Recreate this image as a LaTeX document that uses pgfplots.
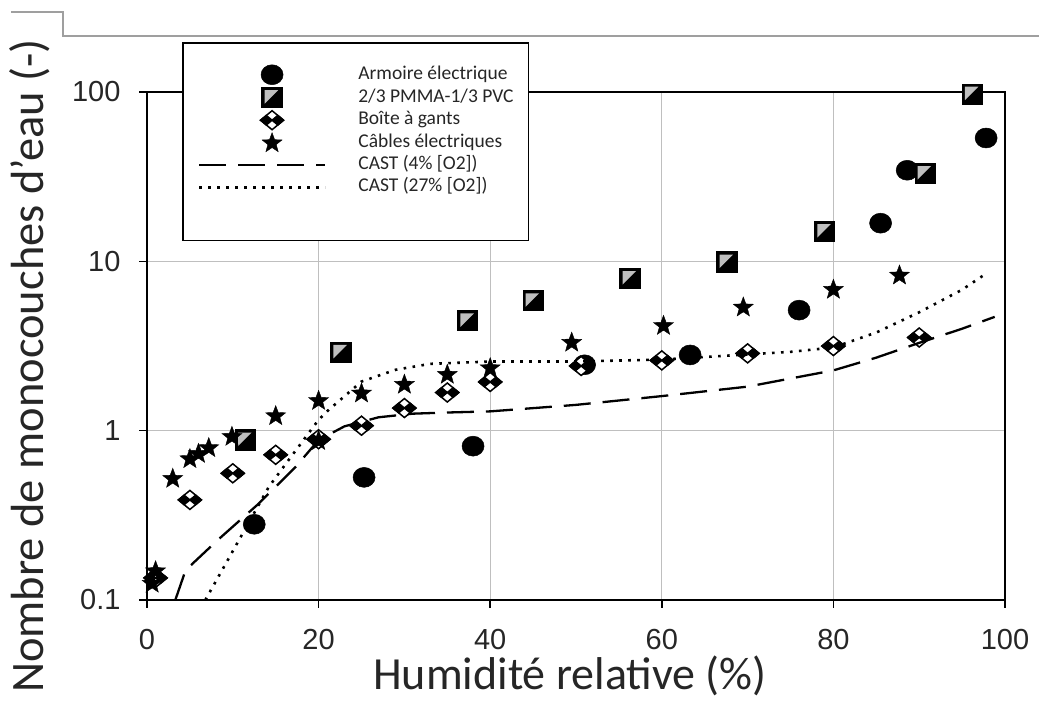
\documentclass[border=0pt]{standalone}
\usepackage{fontspec}
\setmainfont{Carlito}
\newfontfamily\tickfont{Liberation Sans}
\usepackage{pgfplots}
\pgfplotsset{compat=1.18}

\pgfdeclareplotmark{bstar}{%
 \pgfpathmoveto{\pgfpointpolar{90}{\pgfplotmarksize}}%
 \pgfpathlineto{\pgfpointpolar{126}{0.42\pgfplotmarksize}}%
 \pgfpathlineto{\pgfpointpolar{162}{\pgfplotmarksize}}%
 \pgfpathlineto{\pgfpointpolar{198}{0.42\pgfplotmarksize}}%
 \pgfpathlineto{\pgfpointpolar{234}{\pgfplotmarksize}}%
 \pgfpathlineto{\pgfpointpolar{270}{0.42\pgfplotmarksize}}%
 \pgfpathlineto{\pgfpointpolar{306}{\pgfplotmarksize}}%
 \pgfpathlineto{\pgfpointpolar{342}{0.42\pgfplotmarksize}}%
 \pgfpathlineto{\pgfpointpolar{18}{\pgfplotmarksize}}%
 \pgfpathlineto{\pgfpointpolar{54}{0.42\pgfplotmarksize}}%
 \pgfpathclose
 \pgfsetfillcolor{black}%
 \pgfusepathqfillstroke
}
\pgfdeclareplotmark{hsq}{%
 \pgfpathrectangle{\pgfpoint{-\pgfplotmarksize}{-\pgfplotmarksize}}{\pgfpoint{2\pgfplotmarksize}{2\pgfplotmarksize}}%
 \pgfsetfillcolor{black}%
 \pgfusepathqfillstroke
 \pgfpathmoveto{\pgfpoint{-0.75\pgfplotmarksize}{0.75\pgfplotmarksize}}%
 \pgfpathlineto{\pgfpoint{0.6\pgfplotmarksize}{0.75\pgfplotmarksize}}%
 \pgfpathlineto{\pgfpoint{-0.75\pgfplotmarksize}{-0.6\pgfplotmarksize}}%
 \pgfpathclose
 \pgfsetfillcolor{black!25}%
 \pgfusepathqfill
}
\pgfdeclareplotmark{bdia}{%
 \pgfpathmoveto{\pgfpoint{-1.15\pgfplotmarksize}{0pt}}%
 \pgfpathlineto{\pgfpoint{0pt}{0.95\pgfplotmarksize}}%
 \pgfpathlineto{\pgfpoint{1.15\pgfplotmarksize}{0pt}}%
 \pgfpathlineto{\pgfpoint{0pt}{-0.95\pgfplotmarksize}}%
 \pgfpathclose
 \pgfsetfillcolor{white}%
 \pgfusepathqfillstroke
 \pgfpathmoveto{\pgfpoint{-0.575\pgfplotmarksize}{0.475\pgfplotmarksize}}%
 \pgfpathlineto{\pgfpoint{0pt}{0pt}}%
 \pgfpathlineto{\pgfpoint{-0.575\pgfplotmarksize}{-0.475\pgfplotmarksize}}%
 \pgfpathlineto{\pgfpoint{-1.15\pgfplotmarksize}{0pt}}%
 \pgfpathclose
 \pgfpathmoveto{\pgfpoint{0.575\pgfplotmarksize}{0.475\pgfplotmarksize}}%
 \pgfpathlineto{\pgfpoint{0pt}{0pt}}%
 \pgfpathlineto{\pgfpoint{0.575\pgfplotmarksize}{-0.475\pgfplotmarksize}}%
 \pgfpathlineto{\pgfpoint{1.15\pgfplotmarksize}{0pt}}%
 \pgfpathclose
 \pgfsetfillcolor{black}%
 \pgfusepathqfillstroke
}

\begin{document}
\begin{tikzpicture}
\useasboundingbox (0pt,0pt) rectangle (1039pt,715pt);
\draw[gray!75, line width=1.2pt] (11pt,703pt) -- (63pt,703pt) -- (63pt,679pt) -- (1039pt,679pt);
\begin{axis}[
  at={(147pt,115pt)}, anchor=south west,
  scale only axis, width=858pt, height=508pt,
  xmin=0, xmax=100, ymode=log, ymin=0.1, ymax=100,
  xtick={0,20,40,60,80,100},
  ytick={0.1,1,10,100}, yticklabels={0.1,1,10,100},
  xtick pos=bottom, ytick pos=left,
  tick align=outside, major tick length=8pt,
  tick style={black, line width=1.5pt},
  minor tick num=0, minor y tick style={draw=none},
  grid=major, major grid style={gray!50, line width=1.3pt},
  axis line style={black, line width=2pt},
  /pgf/number format/assume math mode=true,
  ticklabel style={font=\tickfont\fontsize{29}{32}\selectfont, text=black!85},
  yticklabel style={xshift=-15pt},
  xticklabel style={yshift=-18pt},
  clip mode=individual,
  legend image code/.code={\draw[mark repeat=2, mark phase=2] plot coordinates {(0pt,0pt) (73pt,0pt) (126pt,0pt)};},
  legend style={at={(0.0408,1.0984)}, anchor=north west, draw=black, line width=1.5pt, fill=white,
    inner xsep=15pt, inner ysep=22pt, font=\fontsize{19.5}{22}\selectfont,
    row sep=3pt, column sep=32pt,
    nodes={inner sep=0pt, text height=14pt, text depth=5pt, text=black!85}},
  legend cell align=left,
]
% Armoire electrique
\addplot[only marks, mark=*, mark size=10.5pt, mark options={fill=black, draw=black, line width=0.5pt, xscale=1.05, yscale=0.95}]
 coordinates {(12.5,0.28) (25.3,0.53) (38,0.81) (51,2.45) (63.3,2.8) (76,5.15) (85.5,16.8) (88.6,34.5) (97.8,53.5)};
\addlegendentry{Armoire électrique}
% PMMA-PVC
\addplot[only marks, mark=hsq, mark size=10pt, mark options={draw=black, line width=1.2pt}]
 coordinates {(11.5,0.88) (22.6,2.9) (37.4,4.45) (45,5.85) (56.3,7.9) (67.6,9.9) (79,15) (90.7,33) (96.2,97)};
\addlegendentry{2/3 PMMA-1/3 PVC}
% Boite a gants
\addplot[only marks, mark=bdia, mark size=10pt, mark options={draw=black, line width=1.5pt}]
 coordinates {(1,0.135) (5,0.39) (10,0.56) (15,0.72) (20,0.89) (25,1.07) (30,1.36) (35,1.68) (40,1.94) (50.6,2.41) (60,2.6) (70,2.86) (80,3.16) (90,3.55)};
\addlegendentry{Boîte à gants}
% Cables electriques
\addplot[only marks, mark=bstar, mark size=10.5pt, mark options={draw=black, line width=0.4pt}]
 coordinates {(0.6,0.125) (1,0.148) (3,0.52) (5,0.68) (6,0.73) (7.2,0.79) (9.9,0.92) (15,1.22) (20,0.87) (20,1.5) (25,1.66) (30,1.87) (35,2.14) (40,2.34) (49.5,3.31) (60.2,4.16) (69.5,5.34) (80,6.8) (87.7,8.25)};
\addlegendentry{Câbles électriques}
% CAST 4%
\addplot[no marks, black, line width=2.3pt, dash pattern=on 27pt off 12pt]
 coordinates {(3.3,0.1) (4.5,0.15) (8.2,0.225) (13,0.37) (17.3,0.61) (20,0.88) (23,1.06) (27,1.2) (31,1.26) (35,1.28) (40,1.3) (50,1.42) (60,1.6) (70,1.82) (80,2.27) (85,2.7) (90,3.3) (95,4.0) (98.8,4.7)};
\addlegendentry{CAST (4\% [O2])}
% CAST 27%
\addplot[no marks, black, line width=2.6pt, dash pattern=on 2.6pt off 6.4pt]
 coordinates {(6.8,0.1) (10.7,0.225) (14.2,0.466) (16.5,0.67) (20,1.16) (21.2,1.33) (25,1.95) (29,2.29) (33,2.48) (40,2.56) (50,2.56) (60,2.63) (70,2.82) (75,2.92) (80,3.1) (85,3.8) (90,5.0) (95,6.8) (98,8.6)};
\addlegendentry{CAST (27\% [O2])}
\addlegendimage{empty legend}
\addlegendentry{}
\end{axis}
\node[rotate=90, anchor=base, font=\fontsize{46.5}{50}\selectfont, text=black!85, inner sep=0pt] at (43pt,349pt) {Nombre de monocouches d'eau (-)};
\node[anchor=base, font=\fontsize{46}{50}\selectfont, text=black!85, inner sep=0pt] at (570pt,25pt) {Humidité relative (\%)};
\end{tikzpicture}
\end{document}
